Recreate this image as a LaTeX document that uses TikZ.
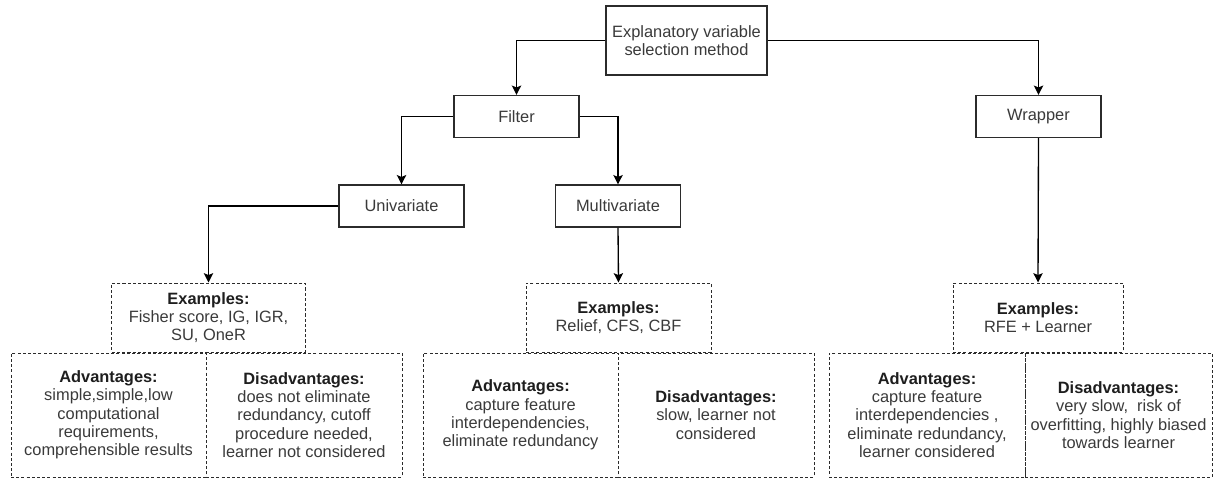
\documentclass[tikz,border=0pt]{standalone}
\usepackage{fontspec}
\setmainfont{Liberation Sans}
\usetikzlibrary{arrows.meta,positioning}
\definecolor{edge}{HTML}{2B2B2B}
\definecolor{txt}{HTML}{3A3A3A}
\definecolor{txt2}{HTML}{1E1E1E}

\begin{document}
\begin{tikzpicture}[
  x=0.75pt, y=-0.75pt,
  >={Stealth[length=7pt,width=7pt,inset=1.4pt]},
  method/.style={draw=edge, line width=0.9pt, fill=white, inner sep=0pt, minimum width=#1, minimum height=31.5pt, align=center, text=txt, font=\fontsize{12.3}{13.7}\selectfont},
  card/.style={draw=edge, line width=0.75pt, dash pattern=on 2.3pt off 1.6pt, inner sep=0pt, align=center, text=txt, font=\fontsize{12.3}{13.7}\selectfont},
  arr/.style={->, line width=1pt, color=black},
]
\useasboundingbox (0,0) rectangle (1220,479);

\node[method=120.75pt, minimum height=51.75pt] (root) at (686.5,40.5) {Explanatory variable\\selection method};
\node[method=93.75pt] (filter) at (516.5,116.5) {Filter};
\node[method=93.75pt] (wrapper) at (1038.5,116.5) {Wrapper};
\node[method=93.75pt] (uni) at (401.5,206) {Univariate};
\node[method=93.75pt] (multi) at (618,206) {Multivariate};

\node[card, minimum width=145pt, minimum height=51.75pt] (exuni) at (208.5,317.5) {\textcolor{txt2}{\bfseries Examples:}\\Fisher score, IG, IGR,\\SU, OneR};
\node[card, minimum width=138.75pt, minimum height=51.75pt] (exmulti) at (618.5,317.5) {\textcolor{txt2}{\bfseries Examples:}\\Relief, CFS, CBF};
\node[card, minimum width=127.5pt, minimum height=51.75pt] (exwrap) at (1038,317.5) {\textcolor{txt2}{\bfseries Examples:}\\RFE + Learner};

\node[card, minimum width=146.25pt, minimum height=93pt] (advuni) at (108.5,415) {\textcolor{txt2}{\bfseries Advantages:}\\simple,simple,low\\computational\\requirements,\\comprehensible results};
\node[card, minimum width=147pt, minimum height=93pt] (disuni) at (304,415) {\textcolor{txt2}{\bfseries Disadvantages:}\\does not eliminate\\redundancy, cutoff\\procedure needed,\\learner not considered};
\node[card, minimum width=146.25pt, minimum height=93pt] (advmulti) at (520.5,415) {\textcolor{txt2}{\bfseries Advantages:}\\capture feature\\interdependencies,\\eliminate redundancy};
\node[card, minimum width=147pt, minimum height=93pt] (dismulti) at (716,415) {\textcolor{txt2}{\bfseries Disadvantages:}\\slow, learner not\\considered};
\node[card, minimum width=147pt, minimum height=93pt] (advwrap) at (927,415) {\textcolor{txt2}{\bfseries Advantages:}\\capture feature\\interdependencies ,\\eliminate redundancy,\\learner considered};
\node[card, minimum width=140.25pt, minimum height=93pt] (diswrap) at (1118.5,415) {\textcolor{txt2}{\bfseries Disadvantages:}\\very slow,~ risk of\\overfitting, highly biased\\towards learner};

\draw[arr] (root.west) -| (filter.north);
\draw[arr] (root.east) -| (wrapper.north);
\draw[arr] (filter.west) -| (uni.north);
\draw[arr] (filter.east) -| (multi.north);
\draw[arr] (uni.west) -| (exuni.north);
\draw[arr] (multi.south) -- (exmulti.north);
\draw[arr] (wrapper.south) -- (exwrap.north);

\end{tikzpicture}
\end{document}
